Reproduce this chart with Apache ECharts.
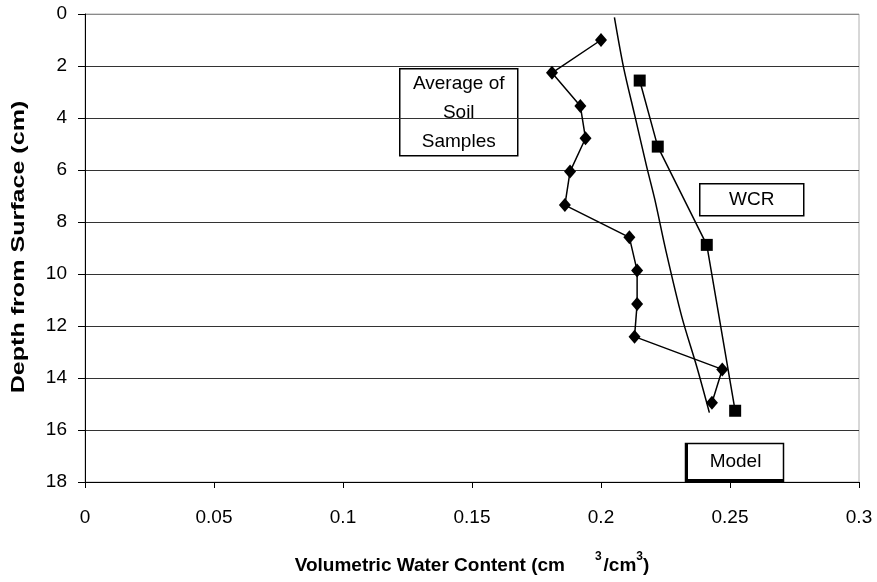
<!DOCTYPE html>
<html>
<head>
<meta charset="utf-8">
<script src="https://cdn.jsdelivr.net/npm/echarts@6/dist/echarts.min.js"></script>
<style>
  html, body { margin: 0; padding: 0; background: #fff; }
  #chart { width: 877px; height: 582px; }
</style>
</head>
<body>
<div id="chart"></div>
<script>
// Soil moisture profile: volumetric water content vs depth

// Average of soil samples (water content, depth in cm)
const soilContent = [0.200, 0.181, 0.192, 0.194, 0.188, 0.186, 0.211, 0.214, 0.214, 0.213, 0.247, 0.243];
const soilDepth   = [1.0, 2.26, 3.54, 4.78, 6.06, 7.35, 8.59, 9.87, 11.15, 12.41, 13.67, 14.95];

// WCR probe readings
const wcrContent = [0.215, 0.222, 0.241, 0.252];
const wcrDepth   = [2.56, 5.10, 8.88, 15.26];

// Model profile
const modelContent = [0.2052, 0.2087, 0.2132, 0.2177, 0.2209, 0.2251, 0.2313, 0.2371, 0.2420];
const modelDepth   = [0.13, 2.03, 3.95, 5.87, 7.15, 9.08, 11.64, 13.56, 15.33];

const depthTicks = [0, 2, 4, 6, 8, 10, 12, 14, 16, 18];
const contentTicks = [0, 0.05, 0.1, 0.15, 0.2, 0.25, 0.3];

const pairs = (xs, ys) => xs.map((x, i) => [x, ys[i]]);

const FONT = "'Liberation Sans', Arial, sans-serif";

const chart = echarts.init(document.getElementById('chart'));

const splitColors = depthTicks.map((d, i) => (i === 0 ? '#8a8a8a' : '#333'));

chart.setOption({
  animation: false,
  backgroundColor: '#fff',
  textStyle: { fontFamily: FONT },
  grid: {
    left: 85, right: 18, top: 14, bottom: 100,
    show: true, borderColor: '#b0b0b0', borderWidth: 1
  },
  xAxis: {
    type: 'value',
    min: contentTicks[0],
    max: contentTicks[contentTicks.length - 1],
    interval: 0.05,
    axisLine: { show: true, onZero: false, lineStyle: { color: '#000', width: 1 } },
    axisTick: { show: true, inside: false, length: 6, lineStyle: { color: '#000' } },
    splitLine: { show: false },
    axisLabel: {
      color: '#000', fontSize: 19, fontFamily: FONT, margin: 26,
      formatter: v => String(+v.toFixed(2))
    },
    name: '{b|Volumetric Water Content (cm}{s1|3}{b|/cm}{s|3}{b|)}',
    nameLocation: 'middle',
    nameGap: 69,
    nameTextStyle: {
      rich: {
        b: { fontSize: 19, fontWeight: 'bold', color: '#000', fontFamily: FONT, lineHeight: 24, verticalAlign: 'bottom' },
        s1: { fontSize: 12, fontWeight: 'bold', color: '#000', fontFamily: FONT, lineHeight: 24, verticalAlign: 'top', padding: [0, 2, 0, 30] },
        s: { fontSize: 12, fontWeight: 'bold', color: '#000', fontFamily: FONT, lineHeight: 24, verticalAlign: 'top' }
      }
    }
  },
  yAxis: {
    type: 'value',
    inverse: true,
    min: depthTicks[0],
    max: depthTicks[depthTicks.length - 1],
    interval: 2,
    axisLine: { show: true, onZero: false, lineStyle: { color: '#000', width: 1 } },
    axisTick: { show: true, inside: false, length: 7, lineStyle: { color: '#000' } },
    splitLine: { show: true, lineStyle: { color: splitColors, width: 1 } },
    axisLabel: { color: '#000', fontSize: 19, fontFamily: FONT, margin: 18 }
  },
  series: [
    {
      name: 'Average of Soil Samples',
      type: 'line',
      data: pairs(soilContent, soilDepth),
      symbol: 'diamond',
      symbolSize: [12, 14],
      itemStyle: { color: '#000' },
      lineStyle: { color: '#000', width: 1.5 },
      z: 3
    },
    {
      name: 'WCR',
      type: 'line',
      data: pairs(wcrContent, wcrDepth),
      symbol: 'rect',
      symbolSize: 12,
      itemStyle: { color: '#000' },
      lineStyle: { color: '#000', width: 1.5 },
      z: 3
    },
    {
      name: 'Model',
      type: 'line',
      data: pairs(modelContent, modelDepth),
      symbol: 'none',
      smooth: 0.3,
      lineStyle: { color: '#000', width: 1.5 },
      z: 2
    }
  ],
  graphic: [
    // Depth axis title (rotated, widely set)
    {
      type: 'text', x: 18.5, y: 247, rotation: Math.PI / 2, scaleX: 1.32,
      style: { text: 'Depth from Surface (cm)', font: 'bold 19px ' + FONT, fill: '#000',
               align: 'center', verticalAlign: 'middle' }
    },
    // "Average of Soil Samples" label box
    {
      type: 'group', left: 399, top: 68,
      children: [
        { type: 'rect', shape: { x: 0, y: 0, width: 118, height: 87 },
          style: { fill: '#fff', stroke: '#000', lineWidth: 1.5 } },
        { type: 'text', x: 59, y: 44,
          style: { text: 'Average of\nSoil\nSamples', font: '19px ' + FONT, fill: '#000',
                   align: 'center', verticalAlign: 'middle', lineHeight: 29 } }
      ]
    },
    // "WCR" label box
    {
      type: 'group', left: 699, top: 183,
      children: [
        { type: 'rect', shape: { x: 0, y: 0, width: 104, height: 32 },
          style: { fill: '#fff', stroke: '#000', lineWidth: 1.5 } },
        { type: 'text', x: 52, y: 16,
          style: { text: 'WCR', font: '19px ' + FONT, fill: '#000', align: 'center', verticalAlign: 'middle' } }
      ]
    },
    // "Model" label box
    {
      type: 'group', left: 683, top: 441,
      children: [
        { type: 'rect', shape: { x: 0, y: 0, width: 98, height: 38 },
          style: { fill: '#fff', stroke: '#000', lineWidth: 1.5 } },
        { type: 'line', shape: { x1: 1, y1: 0, x2: 1, y2: 38 }, style: { stroke: '#000', lineWidth: 3 } },
        { type: 'line', shape: { x1: 0, y1: 37, x2: 98, y2: 37 }, style: { stroke: '#000', lineWidth: 3 } },
        { type: 'text', x: 50, y: 18,
          style: { text: 'Model', font: '19px ' + FONT, fill: '#000', align: 'center', verticalAlign: 'middle' } }
      ]
    }
  ]
});
</script>
</body>
</html>
